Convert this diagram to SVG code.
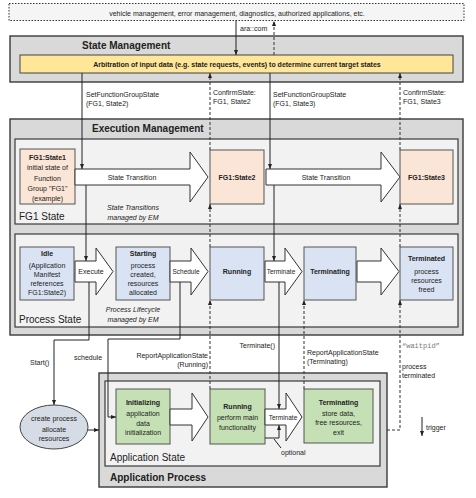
<svg xmlns="http://www.w3.org/2000/svg" width="476" height="498" viewBox="0 0 476 498">
<style>
.t{font-family:"Liberation Sans",Arial,sans-serif;font-size:7px;fill:#222}
.b{font-weight:bold}
.c{text-anchor:middle}
.e{text-anchor:end}
.i{font-style:italic}
.ti{font-size:10px;font-weight:bold}
.lb{font-size:10px}
.sm{font-size:6.5px}
.outer{fill:#d9d9d9;stroke:#3a3a3a;stroke-width:1.4}
.inner{fill:#f2f2f2;stroke:#3a3a3a;stroke-width:1.2}
.peach{fill:#fbe5d6;stroke:#555;stroke-width:1}
.blue{fill:#dae3f3;stroke:#555;stroke-width:1}
.green{fill:#c5e0b4;stroke:#555;stroke-width:1}
.barrow{fill:#fff;stroke:#333;stroke-width:1}
.ln{stroke:#222;stroke-width:1;fill:none}
.dl{stroke:#333;stroke-width:1;fill:none;stroke-dasharray:3,2}
</style>
<defs>
<marker id="ah" viewBox="0 0 10 10" refX="10" refY="5" markerWidth="5" markerHeight="5" orient="auto" markerUnits="userSpaceOnUse"><path d="M0,1 L10,5 L0,9 Z" fill="#222"/></marker>
</defs>

<g id="external">
<rect x="9" y="3.5" width="455" height="17" fill="#f5f5f5" stroke="#333" stroke-width="1" stroke-dasharray="1.5,1.5"/>
<text class="t c" x="237" y="15.5">vehicle management, error management, diagnostics, authorized applications, etc.</text>
</g>

<g id="state-management">
<rect class="outer" x="10" y="36" width="453" height="46"/>
<text class="t ti" x="82" y="48.5">State Management</text>
<rect x="20" y="55" width="433" height="18" fill="#ffe699" stroke="#444" stroke-width="1"/>
<text class="t b c" x="237" y="66.5">Arbitration of input data (e.g. state requests, events) to determine current target states</text>
</g>

<g id="execution-management">
<rect class="outer" x="10" y="119" width="453" height="216"/>
<text class="t ti" x="92" y="131.5">Execution Management</text>
</g>

<g id="fg1-state">
<rect class="inner" x="15" y="139" width="443" height="85"/>
<text class="t lb" x="19" y="219.5">FG1 State</text>
<text class="t i c" x="133" y="209.5">State Transitions</text>
<text class="t i c" x="133" y="219.5">managed by EM</text>
</g>

<g id="fg1-state1">
<rect class="peach" x="20" y="149" width="55" height="55"/>
<text class="t b c" x="47.5" y="160">FG1:State1</text>
<text class="t c" x="47.5" y="170">initial state of</text>
<text class="t c" x="47.5" y="180.5">Function</text>
<text class="t c" x="47.5" y="190.5">Group "FG1"</text>
<text class="t c" x="47.5" y="200.5">(example)</text>
</g>
<g id="transition1">
<path class="barrow" d="M75,169 H190 V152 L208,177 L190,202 V185 H75 Z"/>
<text class="t c" x="132" y="179.5">State Transition</text>
</g>
<g id="fg1-state2">
<rect class="peach" x="210" y="150" width="54" height="54"/>
<text class="t b c" x="237" y="179.5">FG1:State2</text>
</g>
<g id="transition2">
<path class="barrow" d="M266,169 H381 V152 L400,177 L381,202 V185 H266 Z"/>
<text class="t c" x="326" y="179.5">State Transition</text>
</g>
<g id="fg1-state3">
<rect class="peach" x="400" y="150" width="53" height="54"/>
<text class="t b c" x="426.5" y="179.5">FG1:State3</text>
</g>

<g id="process-state">
<rect class="inner" x="15" y="234" width="443" height="93"/>
<text class="t lb" x="19" y="322.5">Process State</text>
<text class="t i c" x="133" y="311.5">Process Lifecycle</text>
<text class="t i c" x="133" y="321.5">managed by EM</text>
</g>
<g id="idle">
<rect class="blue" x="20" y="247" width="54" height="53"/>
<text class="t b c" x="47" y="256">Idle</text>
<text class="t c" x="47" y="267.5">(Application</text>
<text class="t c" x="47" y="276.5">Manifest</text>
<text class="t c" x="47" y="285.5">references</text>
<text class="t c" x="47" y="294.5">FG1:State2)</text>
</g>
<g id="execute">
<path class="barrow" d="M75,261 H96 V248 L113,271.5 L96,295 V282 H75 Z"/>
<text class="t c" x="91" y="274">Execute</text>
</g>
<g id="starting">
<rect class="blue" x="116" y="247" width="54" height="53"/>
<text class="t b c" x="143" y="256">Starting</text>
<text class="t c" x="143" y="267.5">process</text>
<text class="t c" x="143" y="276.5">created,</text>
<text class="t c" x="143" y="285.5">resources</text>
<text class="t c" x="143" y="295">allocated</text>
</g>
<g id="schedule">
<path class="barrow" d="M170,261 H191 V248 L208,271.5 L191,295 V282 H170 Z"/>
<text class="t sm c" x="186" y="274">Schedule</text>
</g>
<g id="running">
<rect class="blue" x="210" y="247" width="54" height="53"/>
<text class="t b c" x="237" y="274">Running</text>
</g>
<g id="terminate">
<path class="barrow" d="M265,261 H285 V248 L302,271.5 L285,295 V282 H265 Z"/>
<text class="t sm c" x="281" y="274">Terminate</text>
</g>
<g id="terminating">
<rect class="blue" x="304" y="247" width="52" height="53"/>
<text class="t b c" x="330" y="274">Terminating</text>
</g>
<g id="to-terminated">
<path class="barrow" d="M357,261 H381 V248 L399,271.5 L381,295 V282 H357 Z"/>
</g>
<g id="terminated">
<rect class="blue" x="400" y="247" width="53" height="53"/>
<text class="t b c" x="426.5" y="261">Terminated</text>
<text class="t c" x="426.5" y="273.5">process</text>
<text class="t c" x="426.5" y="282.5">resources</text>
<text class="t c" x="426.5" y="291.5">freed</text>
</g>

<g id="create-process">
<ellipse cx="54" cy="427" rx="34" ry="22" fill="#d6dce5" stroke="#444" stroke-width="1"/>
<text class="t c" x="54" y="420.5">create process</text>
<text class="t c" x="54" y="432">allocate</text>
<text class="t c" x="54" y="441">resources</text>
</g>

<g id="application-process">
<rect class="outer" x="99" y="373" width="288" height="114"/>
<text class="t ti" x="110" y="480.5">Application Process</text>
</g>
<g id="application-state">
<rect class="inner" x="105" y="381" width="275" height="85"/>
<text class="t lb" x="110" y="460.5">Application State</text>
</g>
<g id="initializing">
<rect class="green" x="116" y="389" width="54" height="55"/>
<text class="t b c" x="143" y="404.5">Initializing</text>
<text class="t c" x="143" y="415.5">application</text>
<text class="t c" x="143" y="425.5">data</text>
<text class="t c" x="143" y="434.5">initialization</text>
</g>
<g id="init-to-running">
<path class="barrow" d="M170,409 H192 V393 L208,417 L192,441 V425 H170 Z"/>
</g>
<g id="app-running">
<rect class="green" x="210" y="389" width="55" height="55"/>
<text class="t b c" x="237.5" y="408.5">Running</text>
<text class="t c" x="237.5" y="420">perform main</text>
<text class="t c" x="237.5" y="429.5">functionality</text>
</g>
<g id="app-terminate">
<path class="barrow" d="M265,409 H286 V393 L302,417 L286,441 V425 H265 Z"/>
<text class="t sm c" x="283" y="419.5">Terminate</text>
</g>
<g id="app-terminating">
<rect class="green" x="304" y="389" width="69" height="54"/>
<text class="t b c" x="338.5" y="404.5">Terminating</text>
<text class="t c" x="338.5" y="415.5">store data,</text>
<text class="t c" x="338.5" y="425">free resources,</text>
<text class="t c" x="338.5" y="434.5">exit</text>
</g>

<g id="legend">
<line class="ln" x1="422" y1="417" x2="422" y2="436" marker-end="url(#ah)"/>
<text class="t" x="426" y="430">trigger</text>
</g>

<g id="connectors">
<line class="ln" x1="236" y1="20.5" x2="236" y2="55" marker-end="url(#ah)"/>
<line class="dl" x1="274" y1="55" x2="274" y2="21" marker-end="url(#ah)"/>
<text class="t" x="240" y="30.5">ara::com</text>

<line class="ln" x1="82" y1="73" x2="82" y2="169" marker-end="url(#ah)"/>
<text class="t" x="86" y="97">SetFunctionGroupState</text>
<text class="t" x="86" y="106">(FG1, State2)</text>
<line class="ln" x1="86" y1="185" x2="86" y2="261" marker-end="url(#ah)"/>
<polyline class="ln" points="89,282 89,340 54,340 54,405" marker-end="url(#ah)"/>
<text class="t" x="30" y="365">Start()</text>
<polyline class="ln" points="180,282 180,339 108,339 108,417 116,417" marker-end="url(#ah)"/>
<text class="t" x="74" y="360">schedule</text>
<line class="ln" x1="88" y1="430" x2="99" y2="430" marker-end="url(#ah)"/>

<line class="ln" x1="270" y1="73" x2="270" y2="169" marker-end="url(#ah)"/>
<text class="t" x="273" y="97">SetFunctionGroupState</text>
<text class="t" x="273" y="106">(FG1, State3)</text>
<line class="ln" x1="274" y1="185" x2="274" y2="261" marker-end="url(#ah)"/>
<line class="ln" x1="279" y1="282" x2="279" y2="409" marker-end="url(#ah)"/>
<text class="t e" x="275" y="348">Terminate()</text>
<polyline class="ln" points="265,438 279,438 279,425" marker-end="url(#ah)"/>
<line class="ln" x1="274" y1="439" x2="281" y2="448"/>
<text class="t" x="281" y="455">optional</text>

<line class="dl" x1="210" y1="150" x2="210" y2="73" marker-end="url(#ah)"/>
<line class="dl" x1="210" y1="247" x2="210" y2="204" marker-end="url(#ah)"/>
<line class="dl" x1="210" y1="389" x2="210" y2="300" marker-end="url(#ah)"/>
<text class="t" x="213" y="94.5">ConfirmState:</text>
<text class="t" x="213" y="103.5">FG1, State2</text>
<text class="t e" x="208" y="357.5">ReportApplicationState</text>
<text class="t e" x="208" y="366.5">(Running)</text>

<line class="dl" x1="304" y1="389" x2="304" y2="300" marker-end="url(#ah)"/>
<text class="t" x="307" y="355">ReportApplicationState</text>
<text class="t" x="307" y="364">(Terminating)</text>

<line class="dl" x1="400" y1="150" x2="400" y2="73" marker-end="url(#ah)"/>
<line class="dl" x1="400" y1="247" x2="400" y2="204" marker-end="url(#ah)"/>
<polyline class="dl" points="387,430 400,430 400,300" marker-end="url(#ah)"/>
<text class="t" x="403" y="94.5">ConfirmState:</text>
<text class="t" x="403" y="103.5">FG1, State3</text>
<text x="402" y="348" style="font-family:'Liberation Mono','Courier New',monospace;font-size:7px;fill:#777">“waitpid”</text>
<text class="t" x="402" y="368.5">process</text>
<text class="t" x="402" y="377.5">terminated</text>
</g>
</svg>
